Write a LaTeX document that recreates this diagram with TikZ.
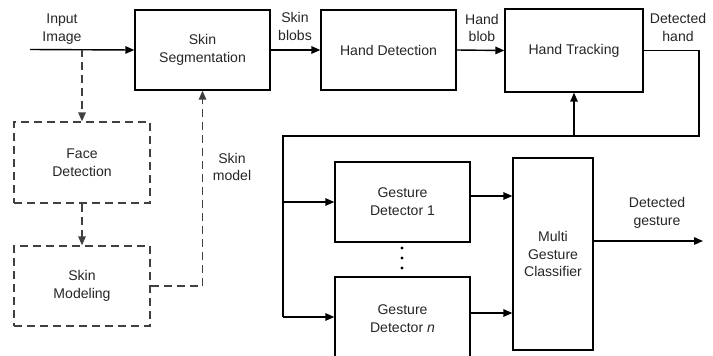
\documentclass[tikz,border=0pt]{standalone}
\usepackage{fontspec}
\setmainfont{Liberation Sans}
\usetikzlibrary{arrows.meta,calc}

\begin{document}
\begin{tikzpicture}[x=0.02cm, y=-0.02cm,
	font=\fontsize{8}{10.2}\selectfont,
	every node/.style={text=black!85, align=center},
	block/.style={draw, line width=0.8pt, minimum width=2.7cm, minimum height=1.6cm, inner sep=0pt},
	optblock/.style={block, dashed, draw=black!75, dash pattern=on 1.6mm off 1mm, minimum width=2.72cm},
	>={Triangle[length=1.8mm, width=1.5mm]},
	line/.style={line width=0.8pt},
	optline/.style={line width=0.9pt, draw=black!75, dash pattern=on 1.6mm off 1mm}]
	\useasboundingbox (0,0) rectangle (713,355);
	% Blocks oben
	\node[block] (seg) at (202.5,50) {Skin\\Segmentation};
	\node[block] (hdet) at (388.5,50) {Hand Detection};
	\node[block, minimum width=2.76cm, minimum height=1.66cm] (track) at (574,50.5) {Hand Tracking};
	% Blocks links (gestrichelt)
	\node[optblock, minimum height=1.62cm] (face) at (82,162.5) {Face\\Detection};
	\node[optblock] (skinmod) at (82,286) {Skin\\Modeling};
	% Blocks unten
	\node[block] (gd1) at (402.5,202) {Gesture\\Detector 1};
	\node[block, minimum height=1.68cm] (gdn) at (402.5,319) {Gesture\\Detector \textit{n}};
	\node[block, minimum width=1.6cm, minimum height=3.84cm] (cls) at (553,254) {Multi\\Gesture\\Classifier};
	% Punkte
	\fill (402,248) circle (1.6);
	\fill (402,258) circle (1.6);
	\fill (402,268) circle (1.6);
	% Hilfspunkte
	\coordinate (in) at (30,49.5);
	\coordinate (fork) at (82,49.5);
	\coordinate (fb1) at (699,136);
	\coordinate (fb2) at (283,136);
	\coordinate (fb3) at (283,317);
	\coordinate (out) at (703,241);
	% Verbindungen
	\draw[line, ->] (in) -- (seg.west);
	\draw[line, ->] (seg.east) -- (hdet.west);
	\draw[line, ->] (hdet.east) -- (track.west);
	\draw[line] (track.east) -| (fb1) -- (fb2) -- (fb3);
	\draw[line, ->] (fb2 |- gd1.west) -- (gd1.west);
	\draw[line, ->] (fb3) -- (fb3 -| gdn.west);
	\draw[line, ->] (track.south |- fb1) -- (track.south);
	\draw[line, ->] ([yshift=0.12cm]gd1.east) -- ([yshift=0.12cm]gd1.east -| cls.west);
	\draw[line, ->] ([yshift=0.12cm]gdn.east) -- ([yshift=0.12cm]gdn.east -| cls.west);
	\draw[line, ->] (cls.east |- out) -- (out);
	% gestrichelte Verbindungen
	\draw[optline, ->] (fork) -- (face.north);
	\draw[optline, ->] (face.south) -- (skinmod.north);
	\draw[optline, ->] (skinmod.east) -| (seg.south);
	% Labels
	\node (lin) at (62,29) {Input\\Image};
	\node (lblobs) at (295,26.5) {Skin\\blobs};
	\node (lblob) at (482,28) {Hand\\blob};
	\node (lhand) at (678,27.5) {Detected\\hand};
	\node (lmodel) at (232,167) {Skin\\model};
	\node (lgest) at (657,213) {Detected\\gesture};
\end{tikzpicture}
\end{document}
